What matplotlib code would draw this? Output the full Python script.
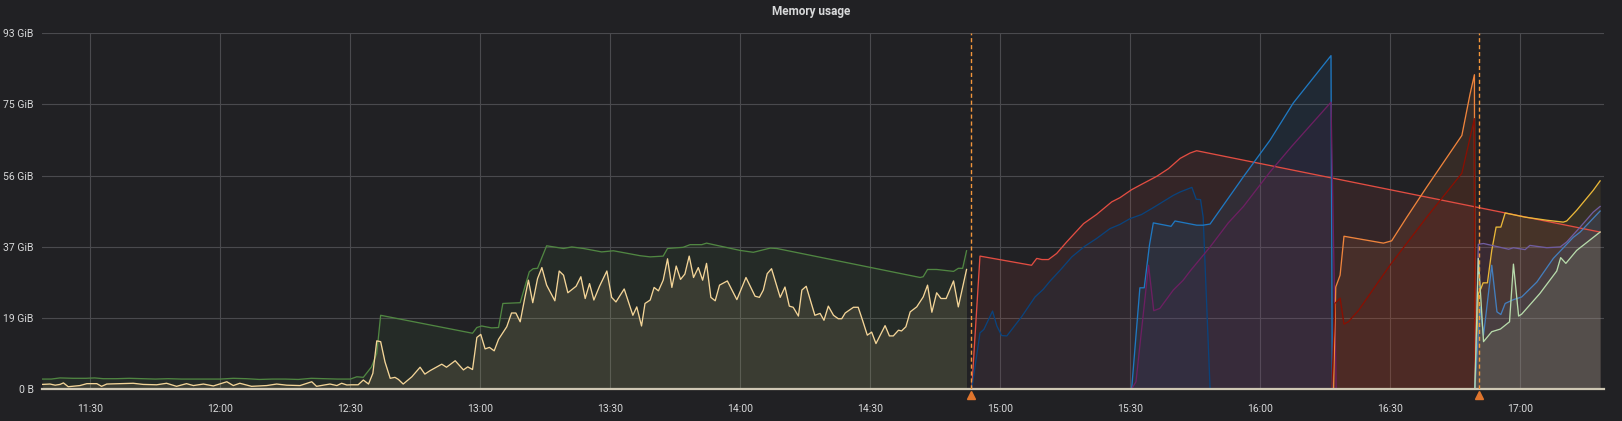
import matplotlib.pyplot as plt
from matplotlib.ticker import FixedLocator

plt.rcParams['font.family'] = ['Roboto', 'DejaVu Sans']

# time = minutes after 11:00, values in GiB
green_t = [18.9, 21, 23, 26, 29, 31, 33, 36, 39, 42, 45, 48, 51, 54, 57, 60, 63, 66, 69, 72, 75, 78, 81, 84, 87, 90,
           91.5, 93.0, 94.9, 96.1, 97.0, 118.2, 119.2, 120.3, 122.6, 124.2, 125.2, 129.2, 131.3, 132.2, 133.2,
           135.3, 139.2, 141.1, 143.8, 148.0, 150.7, 156.9, 159.2, 162.2, 163.2, 166.8, 168.4, 171.1, 172.2,
           179.9, 183.0, 186.9, 188.4, 221.5, 222.2, 223.2, 225.3, 229.2, 230.3, 231.3, 232.2]
green_v = [2.6, 2.6, 2.9, 2.8, 2.8, 2.9, 2.7, 2.7, 2.8, 2.7, 2.6, 2.7, 2.6, 2.6, 2.6, 2.6, 2.8, 2.7, 2.5, 2.6, 2.6, 2.5, 2.8, 2.7, 2.6, 2.6,
           3.2, 3.05, 5.8, 9.3, 19.3, 14.6, 16.1, 16.5, 16.0, 16.1, 22.4, 22.6, 30.7, 31.5, 31.6,
           37.5, 36.8, 37.2, 36.8, 35.9, 36.2, 34.9, 34.6, 34.8, 36.8, 37.1, 37.8, 37.8, 38.2,
           36.3, 35.8, 36.9, 36.8, 29.2, 29.4, 31.3, 31.3, 30.8, 31.6, 31.6, 36.2]

tan_t = [18.9, 20.7, 21.9, 23.0, 23.8, 24.9, 27.6, 29.2, 31.5, 32.6, 33.8, 36.9, 39.9, 42.2, 45.3, 47.6, 49.9,
         52.2, 53.8, 56.1, 58.4, 61.5, 63.0, 64.5, 67.2, 70.7, 73.0, 75.3, 78.4, 81.1, 82.2, 85.3,
         86.9, 88.0, 89.2, 90.3, 91.8, 93.0, 94.2, 95.2, 96.1, 97.0, 98.0, 99.2, 100.3, 101.1, 102.2,
         104.2, 106.1, 107.2, 108.4, 111.1, 112.2, 114.2, 116.1, 117.1, 118.2, 119.2, 120.1, 121.1, 122.1,
         123.2, 124.2, 126.1, 127.2, 128.2, 129.2, 130.3, 131.1, 132.1, 133.2, 134.2, 135.3, 137.2, 138.2,
         139.2, 140.2, 142.1, 143.2, 144.2, 145.2, 146.2, 147.5, 149.2, 150.3, 151.3, 153.2, 155.2, 156.1,
         157.2, 158.0, 159.2, 160.1, 161.1, 162.2, 163.2, 164.2, 165.2, 166.2, 167.2, 168.2, 169.2, 170.3,
         171.3, 172.2, 173.2, 174.2, 175.2, 177.0, 179.2, 181.3, 183.4, 184.4, 185.3, 186.2, 187.2, 189.2,
         190.3, 191.3, 192.2, 193.4, 194.2, 195.2, 197.2, 198.4, 199.3, 200.3, 201.5, 202.6, 203.4, 204.2,
         206.1, 207.2, 208.2, 209.3, 210.3, 211.3, 213.4, 214.4, 215.3, 216.5, 217.2, 218.2, 219.2, 220.7,
         222.2, 223.2, 224.2, 225.3, 226.3, 227.5, 229.2, 230.3, 231.3, 232.2]
tan_v = [1.2, 1.3, 1.0, 1.2, 1.6, 0.6, 0.9, 1.4, 1.4, 0.7, 1.3, 1.4, 1.5, 1.2, 1.1, 1.5, 0.7,
         1.4, 0.9, 1.3, 0.8, 1.9, 0.9, 1.5, 0.7, 0.9, 1.3, 1.0, 0.9, 1.9, 0.7, 1.3,
         0.9, 1.5, 1.05, 1.1, 1.1, 2.35, 1.3, 4.1, 12.6, 12.4, 7.1, 2.8, 3.05, 2.5, 1.3,
         3.2, 5.7, 3.9, 4.8, 6.5, 5.7, 7.4, 5.0, 5.8, 5.1, 13.5, 14.3, 10.5, 10.9,
         10.0, 13.0, 16.3, 19.9, 19.9, 17.6, 24.1, 28.5, 22.6, 28.9, 31.8, 27.2, 23.1, 30.9,
         29.8, 25.2, 26.9, 29.4, 23.7, 27.6, 23.3, 26.9, 30.9, 24.0, 22.8, 26.2, 19.3, 21.5,
         16.5, 22.4, 23.3, 26.6, 25.7, 28.5, 34.1, 26.6, 32.2, 28.7, 30.1, 34.8, 29.2, 31.8,
         28.5, 32.9, 24.0, 23.1, 27.2, 28.3, 23.4, 29.2, 24.3, 24.0, 25.9, 30.2, 31.5, 24.0,
         26.7, 21.7, 21.4, 19.1, 25.9, 26.9, 19.3, 19.8, 18.0, 21.7, 19.3, 18.4, 18.4, 19.9,
         21.4, 21.4, 18.0, 14.1, 14.9, 11.9, 16.6, 13.9, 13.9, 15.4, 15.2, 16.3, 20.2, 21.5,
         24.1, 27.2, 20.1, 25.2, 23.7, 23.7, 28.3, 21.5, 26.6, 31.3]

red_t = [233.4, 235.3, 247.2, 248.4, 249.6, 251.1, 253.0, 255.3, 259.2, 262.2, 265.7, 267.6, 270.3,
         272.6, 276.1, 278.8, 281.5, 283.8, 285.3, 378.4]
red_v = [0, 34.8, 32.4, 34.2, 33.9, 33.9, 35.5, 38.5, 43.3, 45.7, 49.0, 50.1, 52.2,
         53.6, 55.7, 57.7, 60.4, 61.8, 62.4, 41.1]

navy_t = [233.4, 235.3, 236.2, 238.2, 239.2, 240.3, 241.5, 244.9, 248.0, 249.9, 251.5, 253.8, 256.5,
          259.5, 262.2, 265.3, 267.6, 269.9, 272.6, 275.3, 279.9, 281.5, 284.2, 285.2, 286.2, 286.8, 288.4]
navy_v = [0, 14.7, 15.6, 20.4, 16.5, 14.0, 13.9, 18.9, 24.1, 26.1, 28.3, 31.1, 34.6,
          37.4, 39.4, 42.0, 43.1, 44.6, 45.7, 47.5, 50.7, 51.6, 52.8, 49.7, 49.6, 45.0, 0]

blue_t = [270.3, 272.2, 273.2, 274.4, 275.3, 279.4, 280.3, 285.3, 286.8, 288.4, 296.1, 302.2, 307.6, 316.3, 316.6]
blue_v = [0, 26.5, 26.5, 37.6, 43.5, 42.6, 44.0, 42.9, 42.9, 43.2, 55.6, 65.1, 74.9, 87.3, 0]

plum_t = [270.3, 271.3, 274.2, 275.4, 276.8, 279.9, 282.2, 283.8, 288.4, 292.6, 296.1, 302.2, 307.2, 316.3, 317.5]
plum_v = [0, 1.9, 32.4, 20.5, 21.1, 25.9, 28.5, 30.9, 37.2, 43.5, 47.8, 56.8, 63.5, 75.1, 0]

orange_t = [316.9, 317.4, 318.4, 319.3, 328.4, 330.3, 333.8, 338.4, 346.5, 348.4, 349.4, 349.5]
orange_v = [0, 26.7, 29.8, 40.0, 38.2, 38.8, 45.0, 52.9, 66.4, 77.3, 82.3, 0]

darkred_t = [316.5, 317.2, 318.4, 319.3, 320.3, 322.6, 329.9, 338.4, 346.5, 349.4, 349.5]
darkred_v = [0, 22.4, 23.8, 17.0, 17.6, 20.5, 32.4, 45.0, 56.5, 70.8, 0]

yellow_t = [349.5, 350.3, 350.9, 351.4, 352.4, 353.4, 354.4, 355.5, 356.5, 361.1, 366.1, 369.9, 370.7, 373.0, 376.8, 378.4]
yellow_v = [0, 25.0, 26.3, 27.8, 27.8, 36.3, 42.4, 42.4, 46.1, 45.0, 44.2, 43.7, 44.0, 46.8, 52.0, 54.5]

violet_t = [349.5, 350.3, 351.5, 357.3, 358.4, 361.1, 362.2, 366.1, 369.2, 370.7, 373.8, 376.8, 378.4]
violet_v = [0, 37.9, 38.1, 36.6, 37.0, 36.5, 37.6, 37.0, 37.2, 38.5, 42.4, 46.3, 47.8]

sky_t = [349.5, 350.7, 351.5, 353.4, 354.6, 355.5, 356.5, 358.4, 360.3, 363.8, 367.6, 372.2, 373.8, 378.4]
sky_v = [0, 21.5, 14.1, 32.4, 20.2, 19.5, 22.4, 23.4, 24.1, 28.0, 34.2, 39.7, 41.1, 46.6]

mint_t = [349.5, 350.3, 351.5, 353.4, 355.4, 357.5, 358.4, 359.6, 360.3, 364.5, 368.4, 369.3, 370.5, 373.0, 378.4]
mint_v = [0, 34.2, 12.4, 15.0, 15.7, 17.6, 32.7, 19.1, 19.6, 25.0, 30.9, 34.4, 32.9, 36.3, 41.1]

annotations = [233.3, 350.5]
tick_times = [30, 60, 90, 120, 150, 180, 210, 240, 270, 300, 330, 360]
y_step = 18.63

series = [
    (green_t, green_v, '#508642'),
    (tan_t, tan_v, '#F4D598'),
    (red_t, red_v, '#E24D42'),
    (navy_t, navy_v, '#0A437C'),
    (blue_t, blue_v, '#1F78C1'),
    (plum_t, plum_v, '#6D1F62'),
    (orange_t, orange_v, '#EF843C'),
    (darkred_t, darkred_v, '#890F02'),
    (yellow_t, yellow_v, '#EAB839'),
    (violet_t, violet_v, '#705DA0'),
    (sky_t, sky_v, '#447EBC'),
    (mint_t, mint_v, '#B7DBAB'),
]

bg = '#212124'
fig = plt.figure(figsize=(16.22, 4.21), dpi=100, facecolor=bg)
ax = fig.add_axes([42 / 1622, 1 - 389 / 421, (1604 - 42) / 1622, (389 - 33.3) / 421])
ax.set_facecolor(bg)

xmin, xmax = 18.85, 379.3
ax.set_xlim(xmin, xmax)
ax.set_ylim(0, 5 * y_step)

for t, v, c in series:
    ax.fill_between(t, v, 0, color=c, alpha=0.1, lw=0)
for t, v, c in series:
    ax.plot(t, v, color=c, lw=0.95, zorder=3)

# flat series sitting on zero
ax.plot([xmin, xmax], [0, 0], color='#cfc8b4', lw=1.6, zorder=4, clip_on=False)

for a in annotations:
    ax.axvline(a, color='#F2963C', lw=1, ls=(0, (3, 2)), zorder=5)
    ax.plot(a, -0.016, marker='^', ms=6, color='#E0752D', transform=ax.get_xaxis_transform(),
            clip_on=False, zorder=6)

yt = [i * y_step for i in range(6)]
ax.yaxis.set_major_locator(FixedLocator(yt))
ax.set_yticklabels(['0 B'] + [f'{round(v)} GiB' for v in yt[1:]])
ax.xaxis.set_major_locator(FixedLocator(tick_times))
ax.set_xticklabels([f'{11 + m // 60}:{m % 60:02d}' for m in tick_times])

ax.grid(True, color='#4a4a4e', lw=0.8)
ax.set_axisbelow(True)
for s in ax.spines.values():
    s.set_visible(False)
ax.tick_params(length=0, colors='#d8d9da', labelsize=7.5)
ax.tick_params(axis='y', pad=6)
ax.tick_params(axis='x', pad=11)

fig.text(0.5, 1 - 12 / 421, 'Memory usage', ha='center', va='center', color='#d8d9da',
         fontsize=8.5, fontweight='bold')

fig.savefig('out.png', dpi=100, facecolor=bg)
